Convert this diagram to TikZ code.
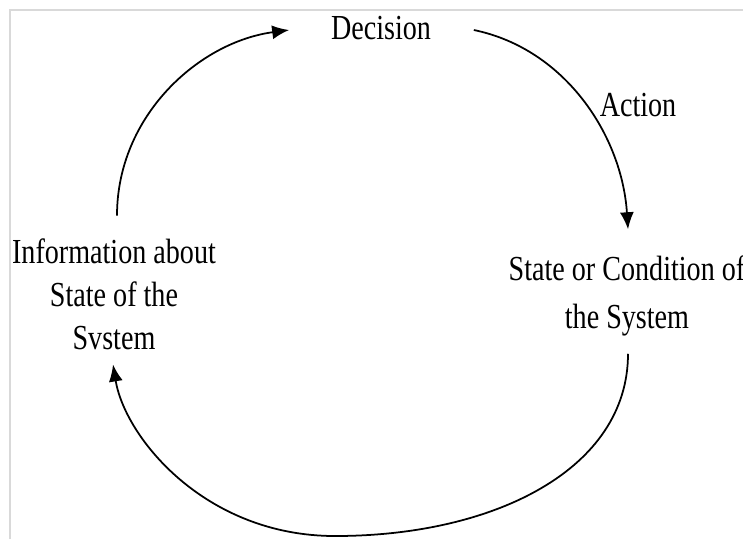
\documentclass[tikz,border=0pt]{standalone}
\usepackage{fontspec}
\setmainfont{Liberation Serif}
\newfontfamily\narrowserif[FakeStretch=0.8]{Liberation Serif}
\usetikzlibrary{arrows.meta, calc}

\begin{document}
\begin{tikzpicture}[x=0.02cm, y=-0.02cm,
    lbl/.style={font=\narrowserif\fontsize{20}{24}\selectfont, align=center, inner sep=2pt},
    ar/.style={-{Latex[length=0.34cm, width=0.28cm]}, line width=1pt}]
\useasboundingbox (0,0) rectangle (743,539);

% Frame
\draw[gray!30, line width=0.8pt] (10,539) -- (10,10) -- (743,10);

% Loop nodes
\node[lbl] (dec) at (381,28) {Decision};
\node[lbl] (act) at (638,105) {Action};
\node[lbl, font=\narrowserif\fontsize{20}{27}\selectfont] (cond) at (627,296) {State or Condition of\\the System};
\node[lbl, font=\narrowserif\fontsize{20}{24.5}\selectfont] (info) at (114,294) {Information about\\State of the\\Svstem};
\coordinate (bot) at (335,536);

% Arrows
\draw[ar] ($(info.north)+(3,-19)$) .. controls +(0,-100) and +(-90,12) .. ($(dec.west)+(-38,2)$);
\draw[ar] ($(dec.east)+(39,2)$) .. controls +(92,19) and +(-6,-93) .. ($(cond.north)+(1,-23)$);
\draw[ar] ($(cond.south)+(1,14)$) .. controls +(0,115) and +(160,0) .. (bot)
    .. controls +(-130,0) and +(12,73) .. ($(info.south)+(-1,11)$);

\end{tikzpicture}
\end{document}
